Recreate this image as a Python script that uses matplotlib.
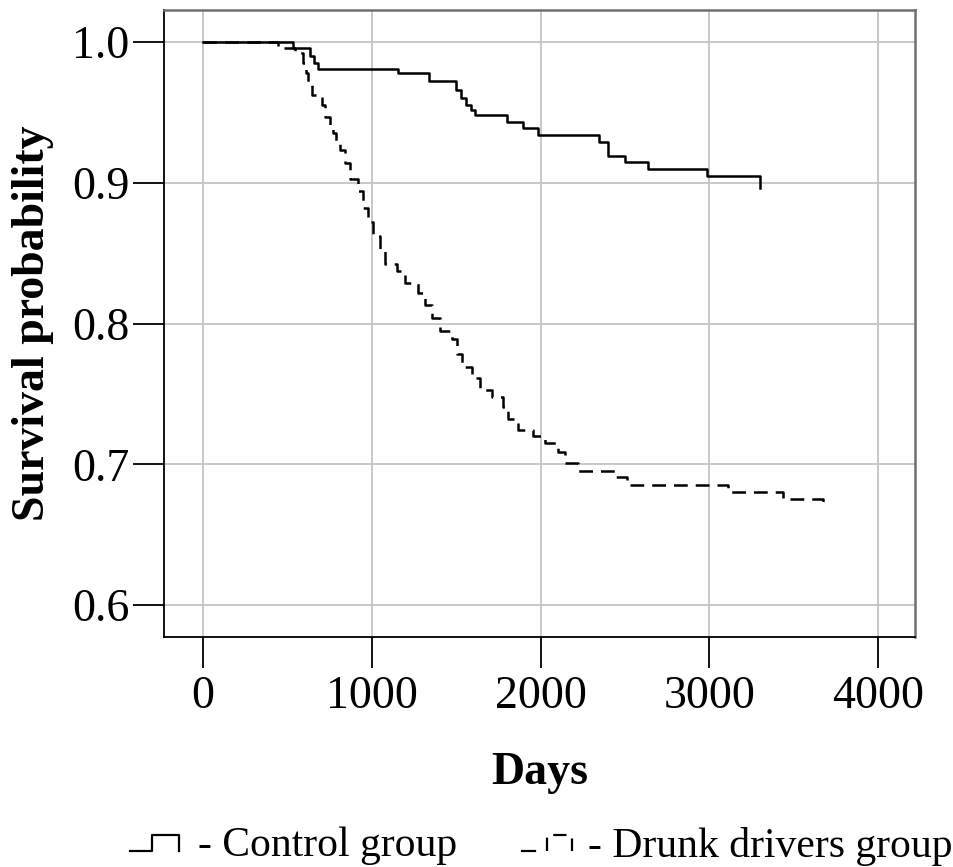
import numpy as np
import matplotlib
matplotlib.use("Agg")
import matplotlib.pyplot as plt
from matplotlib.lines import Line2D

plt.rcParams['font.family'] = ['Liberation Serif', 'DejaVu Serif']

# Kaplan-Meier step data (days, survival)
control_days = [0, 533, 634, 660, 681, 1155, 1339, 1499, 1530, 1560, 1590, 1611,
                1800, 1896, 1985, 2346, 2400, 2500, 2636, 2986, 3300]
control_surv = [1.0, 0.996, 0.990, 0.985, 0.981, 0.978, 0.972, 0.966, 0.960, 0.955, 0.952, 0.948,
                0.943, 0.939, 0.934, 0.929, 0.919, 0.915, 0.910, 0.905, 0.896]

drunk_days = [0, 444, 545, 592, 610, 622, 645, 705, 723, 750, 770, 790, 812, 841, 871,
              918, 948, 977, 1007, 1049, 1078, 1149, 1197, 1274, 1315, 1357, 1404, 1475,
              1505, 1534, 1594, 1641, 1712, 1777, 1807, 1866, 1955, 2026, 2103, 2145,
              2222, 2441, 2512, 3110, 3436, 3673]
drunk_surv = [1.0, 0.996, 0.992, 0.985, 0.978, 0.971, 0.962, 0.955, 0.947, 0.941, 0.935, 0.929,
              0.923, 0.914, 0.903, 0.894, 0.882, 0.872, 0.862, 0.852, 0.842, 0.837, 0.829,
              0.822, 0.813, 0.804, 0.795, 0.789, 0.778, 0.769, 0.761, 0.753, 0.748, 0.741,
              0.732, 0.724, 0.720, 0.715, 0.709, 0.701, 0.695, 0.691, 0.685, 0.680, 0.675, 0.669]

x_ticks = [0, 1000, 2000, 3000, 4000]
y_ticks = [0.6, 0.7, 0.8, 0.9, 1.0]
legend_labels = ['- Control group', '- Drunk drivers group']

W, H = 954, 867
fig = plt.figure(figsize=(W / 100, H / 100), dpi=100)
ax = fig.add_axes([164 / W, 1 - 637 / H, (915 - 164) / W, (637 - 10) / H])

ax.grid(True, color='#c4c4c4', linewidth=1.3)
ax.set_axisbelow(True)

ax.step(control_days, control_surv, where='post', color='black', linewidth=1.8)
ax.step(drunk_days, drunk_surv, where='post', color='black', linewidth=1.8,
        linestyle=(0, (5.5, 3.2)))

ax.set_xlim(-231, 4218)
ax.set_ylim(0.5773, 1.0227)
ax.set_xticks(x_ticks)
ax.set_yticks(y_ticks)
ax.set_yticklabels([f'{v:.1f}' for v in y_ticks])
ax.tick_params(axis='both', direction='out', length=22, width=1.3, labelsize=33,
               colors='black')
ax.tick_params(axis='x', pad=6)
ax.tick_params(axis='y', pad=3)

for side in ['left', 'bottom']:
    ax.spines[side].set_color('black')
    ax.spines[side].set_linewidth(1.3)
for side in ['top', 'right']:
    ax.spines[side].set_color('#707070')
    ax.spines[side].set_linewidth(1.8)

ax.set_xlabel('Days', fontsize=33, fontweight='bold', labelpad=24)
ax.set_ylabel('Survival probability', fontsize=33, fontweight='bold', labelpad=13)

# legend icons drawn by hand, like the original key
def px(x, y):
    return x / W, 1 - y / H

xs, ys = zip(*[px(130, 851), px(152, 851), px(152, 835), px(179, 835), px(179, 851)])
fig.add_artist(Line2D(xs, ys, color='black', linewidth=1.6))
xs, ys = zip(*[px(522, 851), px(535, 851)])
fig.add_artist(Line2D(xs, ys, color='black', linewidth=1.6))
xs, ys = zip(*[px(547, 851), px(547, 835), px(572, 835), px(572, 851)])
fig.add_artist(Line2D(xs, ys, color='black', linewidth=1.6, linestyle=(0, (6, 4))))

fig.text(198 / W, 1 - 846 / H, legend_labels[0], fontsize=30, va='center', ha='left')
fig.text(588 / W, 1 - 846 / H, legend_labels[1], fontsize=30, va='center', ha='left')

fig.savefig('out.png', dpi=100)
